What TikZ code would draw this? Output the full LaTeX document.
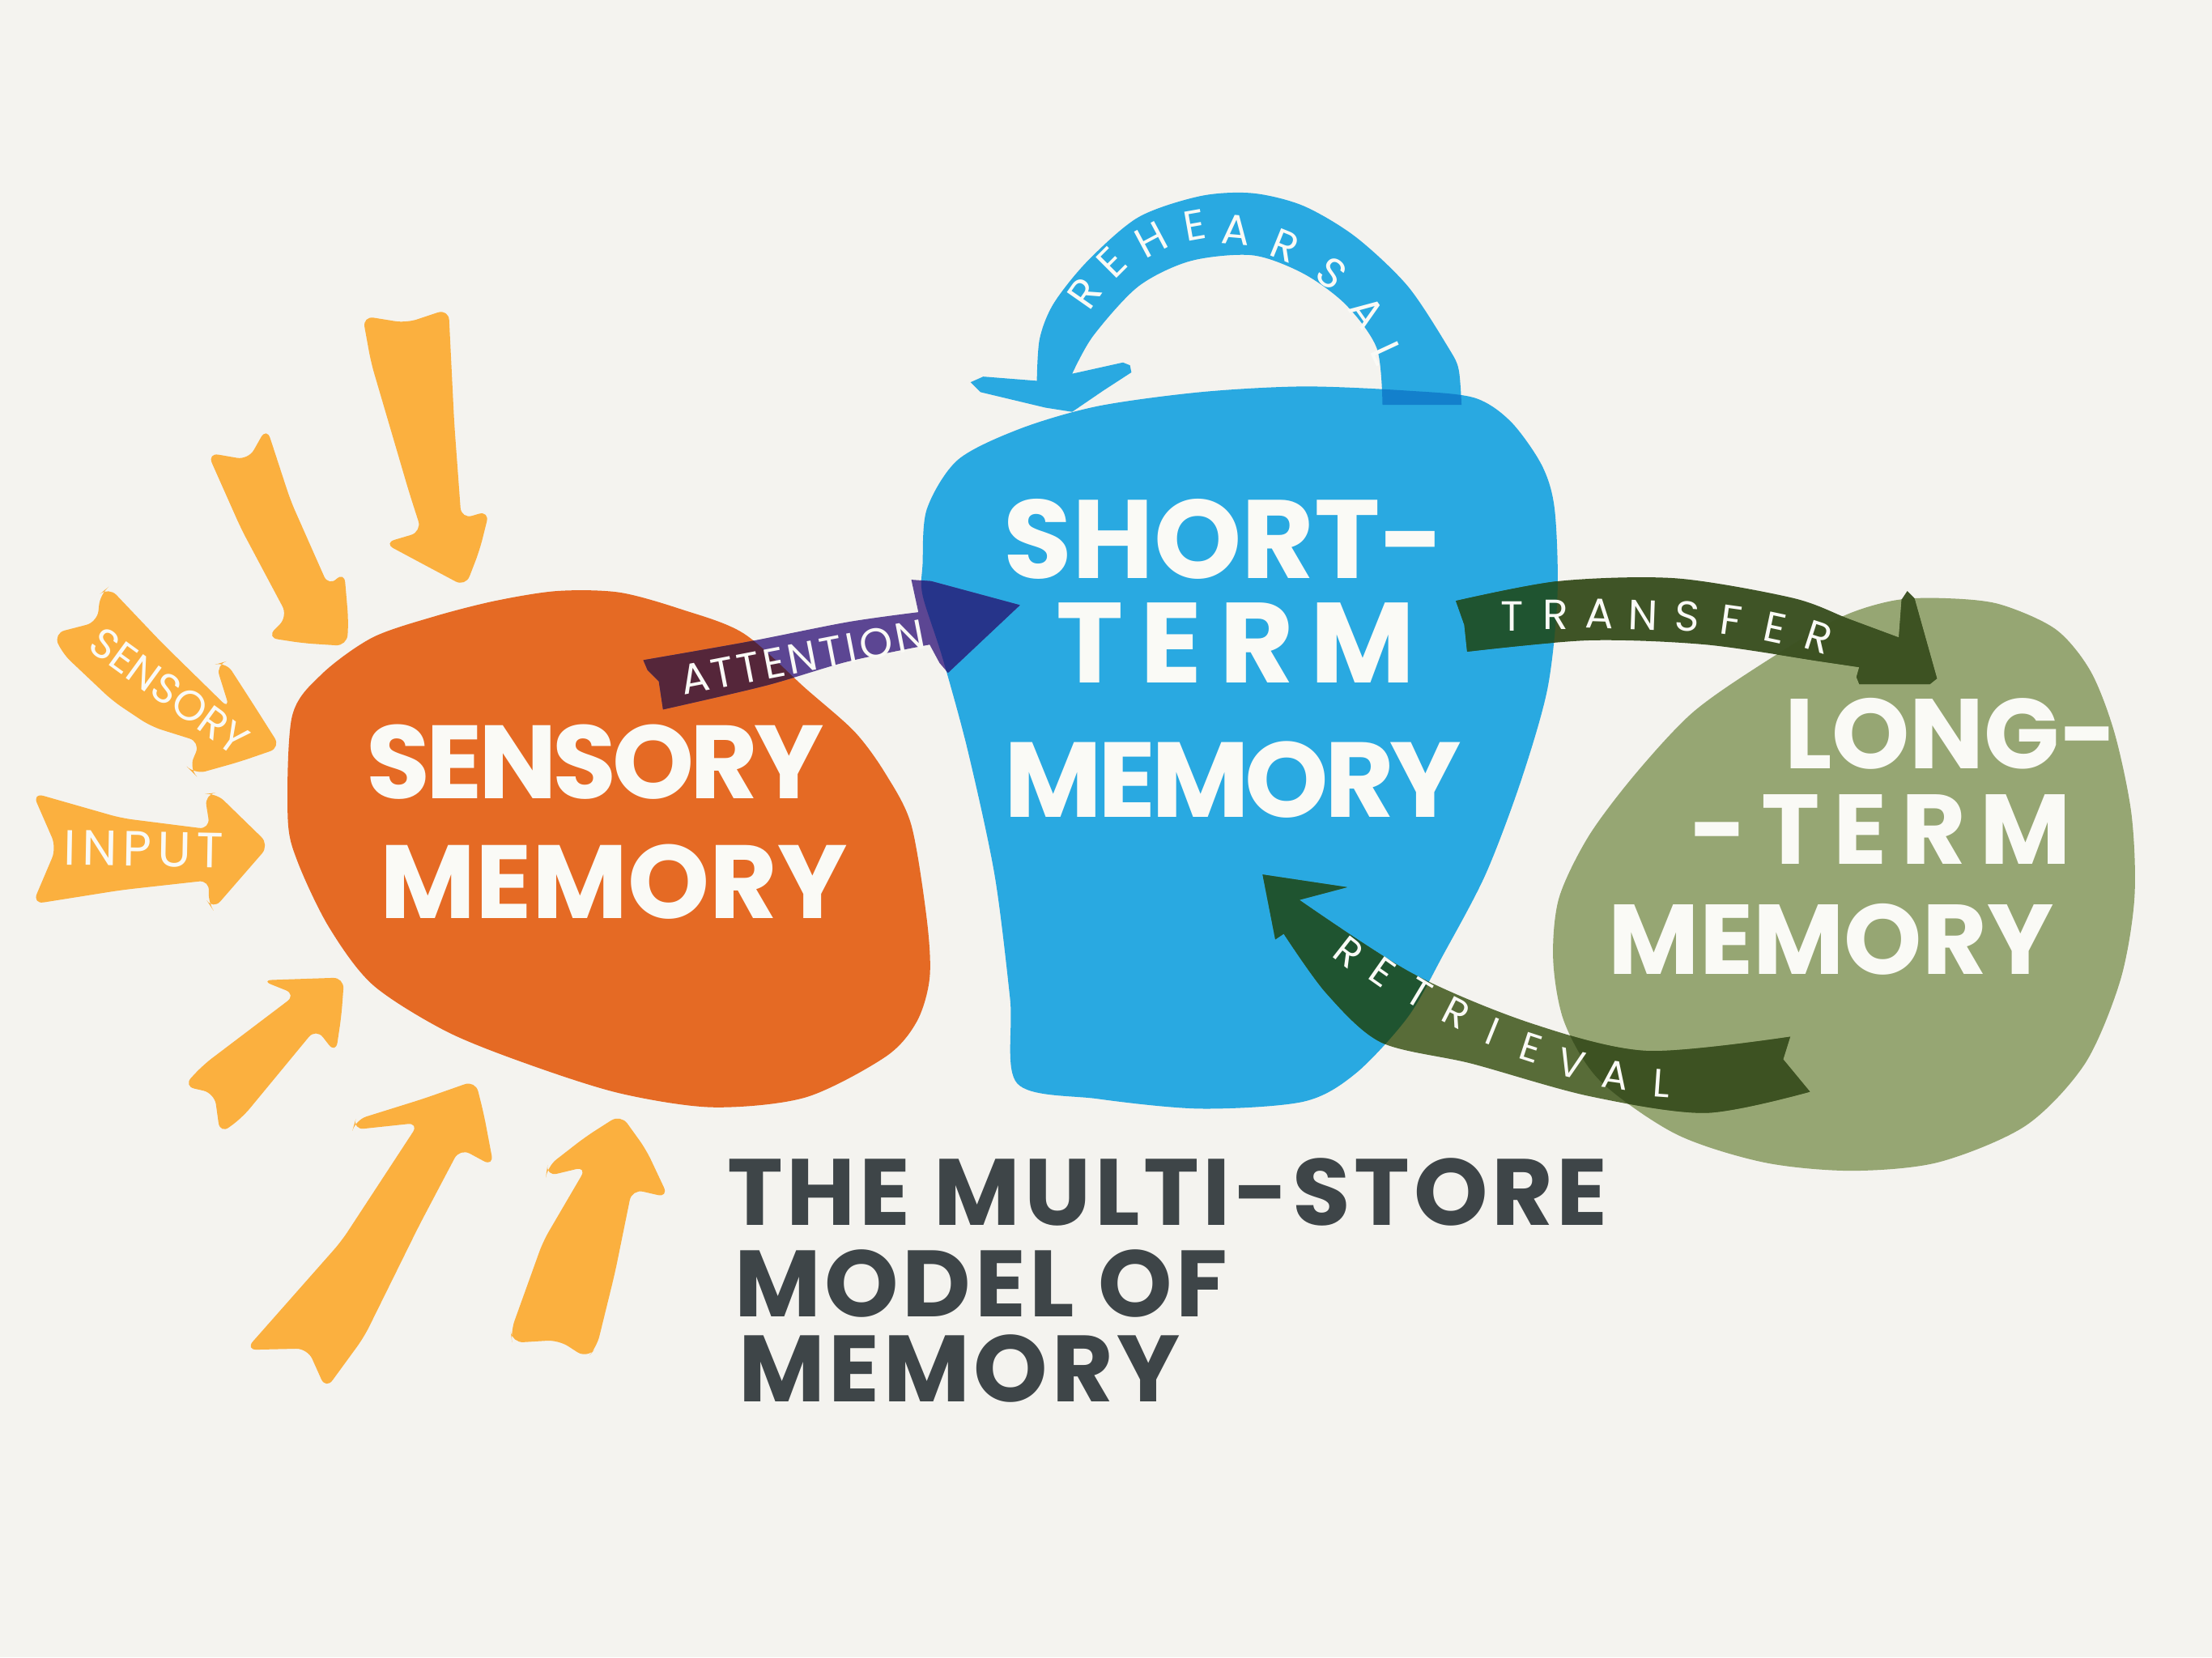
\documentclass[tikz,border=0pt]{standalone}
\usepackage{fontspec}
\setmainfont{Poppins}
\definecolor{bgc}{HTML}{F4F3EF}
\definecolor{yel}{HTML}{FBB03F}
\definecolor{org}{HTML}{E56A24}
\definecolor{blu}{HTML}{29A9E1}
\definecolor{bludk}{HTML}{1380CC}
\definecolor{grn}{HTML}{96A673}
\definecolor{att}{HTML}{5C4693}
\definecolor{attorg}{HTML}{55263A}
\definecolor{attblu}{HTML}{26348A}
\definecolor{trf}{HTML}{3F5426}
\definecolor{ret}{HTML}{586C38}
\definecolor{arrblu}{HTML}{1F5430}
\definecolor{arrgrn}{HTML}{3D5222}
\definecolor{ttl}{HTML}{3E4548}
\definecolor{wht}{HTML}{FAFAF6}
\def\orangeP{plot[smooth cycle] coordinates {(204,-580) (207,-508) (228,-478) (264,-452) (308,-437) (351,-426) (395,-419) (439,-420) (483,-432) (527,-449) (571,-488) (606,-519) (628,-549) (646,-585) (657,-652) (659,-693) (650,-724) (628,-749) (571,-778) (505,-785) (439,-775) (373,-754) (316,-731) (264,-698) (233,-657) (211,-611)}}
\def\blueP{plot[smooth cycle] coordinates {(654,-400) (657,-361) (679,-326) (723,-304) (778,-288) (851,-278) (924,-274) (998,-277) (1045,-282) (1071,-299) (1093,-330) (1102,-361) (1104,-422) (1097,-488) (1078,-554) (1053,-620) (1023,-677) (998,-721) (961,-761) (924,-781) (851,-786) (778,-779) (721,-768) (716,-708) (705,-620) (686,-532) (668,-466) (654,-422)}}
\def\greenP{plot[smooth cycle] coordinates {(1374,-424) (1416,-428) (1457,-446) (1482,-476) (1499,-520) (1511,-578) (1513,-637) (1503,-695) (1478,-754) (1436,-798) (1374,-824) (1312,-830) (1250,-824) (1188,-804) (1134,-766) (1109,-725) (1101,-681) (1105,-637) (1126,-593) (1159,-549) (1200,-505) (1250,-470) (1304,-438) (1341,-426)}}
\def\rehP{plot[smooth] coordinates {(1036,-287) (1034,-262) (1027,-247) (998,-203) (961,-168) (924,-146) (888,-137) (851,-139) (807,-154) (771,-185) (747,-215) (737,-240) (735,-270)} -- (697,-267) -- (688,-271) -- (695,-278) -- (741,-289) -- (760,-292) -- (782,-277) -- (802,-264) -- (801,-259) -- (796,-257) -- (760,-265) -- plot[smooth] coordinates {(760,-265) (775,-238) (807,-203) (844,-185) (888,-181) (924,-194) (954,-216) (976,-247) (980,-287)} -- cycle}
\def\attP{plot[smooth] coordinates {(456,-468) (530,-455) (601,-441) (651,-434)} -- (646,-411) -- (660,-412) -- (723,-429) -- (672,-477) -- (666,-470) -- plot[smooth] coordinates {(659,-457) (601,-469) (543,-486) (470,-503)} -- (467,-483) -- (459,-475) -- cycle}
\def\trfP{plot[smooth] coordinates {(1032,-426) (1105,-412) (1188,-410) (1271,-424) (1311,-439) (1346,-452)} -- (1348,-425) -- (1352,-419) -- (1357,-424) -- (1373,-481) -- (1368,-485) -- (1318,-485) -- (1316,-480) -- plot[smooth] coordinates {(1318,-473) (1291,-469) (1209,-457) (1126,-454) (1040,-462)} -- (1038,-443) -- cycle}
\def\retP{(895,-620) -- (955,-629) -- (921,-638) -- plot[smooth] coordinates {(921,-638) (1001,-690) (1084,-725) (1167,-745) (1269,-735)} -- (1264,-751) -- (1283,-774) -- plot[smooth] coordinates {(1283,-774) (1209,-789) (1126,-777) (1043,-754) (979,-739) (940,-704) (910,-662)} -- (904,-666) -- cycle}
\begin{document}
\begin{tikzpicture}[x=0.1mm,y=0.1mm,
  yarrow/.style={fill=yel, rounded corners=0.8mm},
  big/.style={text=wht, inner sep=0, font=\bfseries\fontsize{#1}{#1}\selectfont},
  lbl/.style={text=wht, inner sep=0, font=\fontsize{8.5pt}{8.5pt}\selectfont},
  lblsm/.style={text=wht, inner sep=0, font=\fontsize{8pt}{8pt}\selectfont},
  lblbig/.style={text=wht, inner sep=0, font=\fontsize{10pt}{10pt}\selectfont},
  ttlstyle/.style={text=ttl, inner sep=0, anchor=west, font=\bfseries\fontsize{19pt}{19pt}\selectfont\addfontfeatures{LetterSpace=4}}]
\fill[bgc] (0,0) rectangle (1568,-1175);
\useasboundingbox (0,0) rectangle (1568,-1175);
% yellow sensory input arrows
\fill[yarrow] (257,-224) -- (288,-229) -- (318,-219) -- (322,-300) -- (327,-368) -- (347,-362) -- (340,-390) -- (330,-416) -- (300,-400) -- (272,-385) -- (299,-377) -- (290,-349) -- (263,-257) -- cycle;
\fill[yarrow] (147,-321) -- (176,-326) -- (189,-303) -- (206,-355) -- (233,-416) -- (244,-405) -- (247,-440) -- (246,-458) -- (215,-456) -- (189,-452) -- (204,-437) -- (171,-375) -- cycle;
\fill[yarrow] (77,-416) -- (115,-456) -- (163,-503) -- (153,-471) -- (160,-469) -- (180,-500) -- (199,-530) -- (170,-540) -- (138,-549) -- (134,-545) -- (142,-526) -- (107,-515) -- (80,-497) -- (44,-463) -- (38,-449) -- (69,-441) -- (71,-421) -- cycle;
\fill[yarrow] (23,-562) -- (86,-580) -- (149,-588) -- (145,-563) -- (153,-562) -- (191,-599) -- (151,-645) -- (147,-639) -- (149,-624) -- (86,-631) -- (23,-641) -- (40,-601) -- cycle;
\fill[yarrow] (185,-695) -- (244,-693) -- (242,-720) -- (238,-747) -- (224,-729) -- (172,-792) -- (156,-804) -- (152,-775) -- (130,-770) -- (144,-755) -- (210,-705) -- cycle;
\fill[yarrow] (250,-801) -- (252,-794) -- (300,-779) -- (337,-766) -- (343,-790) -- (350,-827) -- (326,-814) -- (297,-869) -- (258,-948) -- (231,-985) -- (218,-956) -- (174,-957) -- (242,-880) -- (297,-796) -- cycle;
\fill[yarrow] (440,-790) -- (458,-815) -- (474,-849) -- (448,-843) -- (436,-902) -- (423,-955) -- (416,-963) -- (396,-950) -- (363,-952) -- (362,-944) -- (385,-880) -- (416,-827) -- (387,-834) -- (388,-827) -- (415,-806) -- cycle;
% stores
\fill[org] \orangeP;
\fill[blu] \blueP;
\fill[blu] \rehP;
\begin{scope}\clip \blueP; \fill[bludk] \rehP; \end{scope}
\fill[grn] \greenP;
% attention arrow
\fill[att] \attP;
\begin{scope}\clip \orangeP; \fill[attorg] \attP; \end{scope}
\begin{scope}\clip \blueP; \fill[attblu] \attP; \end{scope}
% transfer arrow
\fill[trf] \trfP;
\begin{scope}\clip \blueP; \fill[arrblu] \trfP; \end{scope}
\begin{scope}\clip \greenP; \fill[arrgrn] \trfP; \end{scope}
% retrieval arrow
\fill[ret] \retP;
\begin{scope}\clip \blueP; \fill[arrblu] \retP; \end{scope}
\begin{scope}\clip \greenP; \fill[arrgrn] \retP; \end{scope}
% store labels
\node[big=21pt] (sm1) at (422,-540) {\addfontfeatures{LetterSpace=-4}SENSORY};
\node[big=21pt] (sm2) at (435,-625) {MEMORY};
\node[big=22.5pt] (st1) at (868,-382) {SHORT-};
\node[big=23pt] (st2) at (876,-456) {\addfontfeatures{LetterSpace=15}TERM};
\node[big=21.5pt] (st3) at (874,-553) {\addfontfeatures{LetterSpace=-4}MEMORY};
\node[big=20pt] (lt1) at (1383,-520) {LONG-};
\node[big=20pt] (lt2) at (1333,-588) {\addfontfeatures{LetterSpace=14}-TERM};
\node[big=20pt] (lt3) at (1298,-666) {MEMORY};
% arrow labels
\foreach \x/\y/\r/\c [count=\i] in {769/208/55/R, 788/186/45/E, 816/170/28/H, 847/160/10/E, 876/163/-5/A, 911/174/-22/R, 944/194/-38/S, 969/221/-55/A, 983/250/-65/L}
  \node[lbl, rotate=\r] (reh\i) at (\x,-\y) {\c};
\node[lbl, rotate=11] (attn) at (569,-466) {\addfontfeatures{LetterSpace=8}ATTENTION};
\foreach \x/\y/\r/\c [count=\i] in {1072/437/0/T, 1103/436/0/R, 1134/435/-2/A, 1165/436/-2/N, 1196/437/-4/S, 1227/440/-8/F, 1258/445/-12/E, 1289/452/-18/R}
  \node[lbl, rotate=\r] (trf\i) at (\x,-\y) {\c};
\foreach \x/\y/\r/\c [count=\i] in {956/675/-38/R, 980/689/-35/E, 1006/704/-31/T, 1032/718/-27/R, 1058/731/-22/I, 1085/743/-18/E, 1114/754/-14/V, 1145/762/-8/A, 1178/768/-4/L}
  \node[lblsm, rotate=\r] (ret\i) at (\x,-\y) {\c};
\node[lbl, rotate=-36] (sens) at (120,-490) {SENSORY};
\node[lblbig, rotate=-1] (inp) at (102,-602) {\addfontfeatures{LetterSpace=12}INPUT};
% title
\node[ttlstyle] (t1) at (515,-845) {THE MULTI-STORE};
\node[ttlstyle] (t2) at (520,-910) {MODEL OF};
\node[ttlstyle] (t3) at (523,-970) {MEMORY};
\end{tikzpicture}
\end{document}
